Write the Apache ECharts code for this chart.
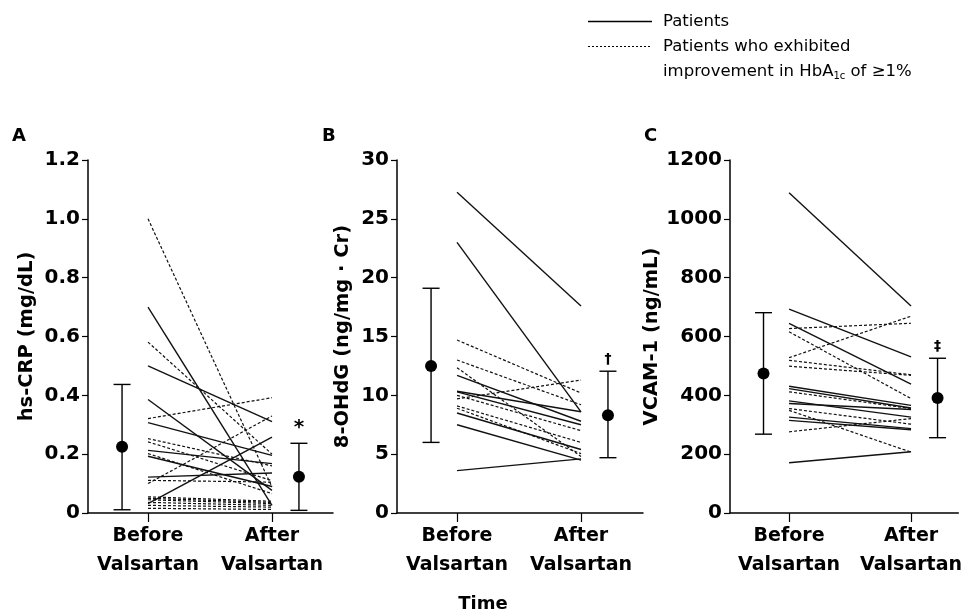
<!DOCTYPE html>
<html>
<head>
<meta charset="utf-8">
<script src="https://cdn.jsdelivr.net/npm/echarts@6/dist/echarts.min.js"></script>
<style>
html,body{margin:0;padding:0;background:#fff;}
#chart{width:965px;height:616px;}
</style>
</head>
<body>
<div id="chart"></div>
<script>
// ---------- DATA ----------
const timeLabels = ['Before\nValsartan', 'After\nValsartan'];
const panelLetters = ['A', 'B', 'C'];
const yAxisNames = ['hs-CRP (mg/dL)', '8-OHdG (ng/mg \u00B7 Cr)', 'VCAM-1 (ng/mL)'];
const sigMarks = ['*', '\u2020', '\u2021'];
const legendLabels = ['Patients', 'Patients who exhibited', 'improvement in HbA', '1c', ' of \u22651%'];

// Panel A: hs-CRP
const aSolidBefore  = [0.70, 0.50, 0.386, 0.307, 0.213, 0.193, 0.122, 0.032];
const aSolidAfter   = [0.026, 0.311, 0.077, 0.196, 0.168, 0.090, 0.136, 0.258];
const aDashedBefore = [1.00, 0.581, 0.321, 0.253, 0.242, 0.202, 0.111, 0.100, 0.055, 0.050, 0.045, 0.036, 0.026, 0.016];
const aDashedAfter  = [0.088, 0.200, 0.392, 0.160, 0.110, 0.066, 0.105, 0.330, 0.040, 0.036, 0.032, 0.026, 0.020, 0.012];
const aMean = [0.225, 0.123];
const aLow  = [0.011, 0.009];
const aHigh = [0.437, 0.237];

// Panel B: 8-OHdG
const bSolidBefore  = [27.25, 23.0, 11.7, 10.35, 10.3, 8.5, 7.5, 3.6];
const bSolidAfter   = [17.6, 8.6, 7.8, 8.6, 7.5, 5.4, 4.5, 4.6];
const bDashedBefore = [14.7, 13.0, 12.35, 10.0, 9.7, 9.1, 8.9];
const bDashedAfter  = [10.2, 9.2, 4.8, 7.0, 11.3, 6.0, 5.05];
const bMean = [12.5, 8.3];
const bLow  = [6.0, 4.7];
const bHigh = [19.1, 12.05];

// Panel C: VCAM-1
const cSolidBefore  = [1089, 693, 645, 431, 423, 381, 372, 326, 315, 171];
const cSolidAfter   = [704, 531, 438, 366, 357, 326, 352, 287, 283, 208];
const cDashedBefore = [627, 616, 528, 519, 499, 412, 355, 349, 276];
const cDashedAfter  = [645, 389, 669, 470, 468, 355, 302, 207, 321];
const cMean = [474, 391];
const cLow  = [268, 256];
const cHigh = [681, 526];

// Axis ranges / ticks
const yMax = [1.2, 30, 1200];
const yInterval = [0.2, 5, 200];

// ---------- LAYOUT (positions in x-axis units) ----------
const xMeanBefore = 1.39, xBefore = 2.45, xAfter = 7.51, xMeanAfter = 8.61;
const grids = [
  {left: 88, top: 160, width: 245, height: 353, xMax: 10},
  {left: 397, top: 160, width: 246, height: 353, xMax: 10.04},
  {left: 730, top: 160, width: 232, height: 353, xMax: 9.47}
];
const FONT = 'DejaVu Sans';

const panels = [
  {sb: aSolidBefore, sa: aSolidAfter, db: aDashedBefore, da: aDashedAfter, mean: aMean, low: aLow, high: aHigh,
   fmt: v => v === 0 ? '0' : v.toFixed(1), gap: 51},
  {sb: bSolidBefore, sa: bSolidAfter, db: bDashedBefore, da: bDashedAfter, mean: bMean, low: bLow, high: bHigh,
   fmt: v => String(v), gap: 44},
  {sb: cSolidBefore, sa: cSolidAfter, db: cDashedBefore, da: cDashedAfter, mean: cMean, low: cLow, high: cHigh,
   fmt: v => String(v), gap: 68}
];

const option = {
  animation: false,
  backgroundColor: '#fff',
  textStyle: {fontFamily: FONT},
  grid: grids.map(g => ({left: g.left, top: g.top, width: g.width, height: g.height, containLabel: false})),
  xAxis: grids.map((g, i) => ({
    type: 'value', gridIndex: i, min: 0, max: g.xMax,
    axisLine: {show: true, onZero: false, lineStyle: {color: '#000', width: 1.5}},
    axisTick: {show: true, customValues: [xBefore, xAfter], length: 9, lineStyle: {color: '#000', width: 1.2}},
    axisLabel: {show: true, customValues: [xBefore, xAfter], margin: 9,
      formatter: v => Math.abs(v - xBefore) < 0.01 ? timeLabels[0] : timeLabels[1],
      fontFamily: FONT, fontWeight: 'bold', fontSize: 19, lineHeight: 29, color: '#000'},
    splitLine: {show: false}
  })),
  yAxis: panels.map((p, i) => ({
    type: 'value', gridIndex: i, min: 0, max: yMax[i], interval: yInterval[i],
    name: yAxisNames[i], nameLocation: 'middle', nameRotate: 90, nameGap: p.gap,
    nameTextStyle: {fontFamily: FONT, fontWeight: 'bold', fontSize: 19.5, color: '#000'},
    axisLine: {show: true, lineStyle: {color: '#000', width: 1.5}},
    axisTick: {show: true, length: 6, lineStyle: {color: '#000', width: 1.2}},
    axisLabel: {formatter: p.fmt, fontFamily: FONT, fontWeight: 'bold', fontSize: 20, color: '#000', margin: 8},
    splitLine: {show: false}
  })),
  series: [],
  graphic: []
};

function lineSeries(i, before, after, dashed) {
  before.forEach((b, k) => {
    option.series.push({
      type: 'line', xAxisIndex: i, yAxisIndex: i, silent: true,
      symbol: 'none',
      data: [[xBefore, b], [xAfter, after[k]]],
      lineStyle: {color: '#111', width: dashed ? 1.2 : 1.4, type: dashed ? [3, 2] : 'solid'},
      z: 2
    });
  });
}

panels.forEach((p, i) => {
  lineSeries(i, p.sb, p.sa, false);
  lineSeries(i, p.db, p.da, true);
  const xs = [xMeanBefore, xMeanAfter];
  option.series.push({
    type: 'custom', xAxisIndex: i, yAxisIndex: i, silent: true, z: 3,
    data: xs.map((x, k) => [x, p.low[k], p.high[k]]),
    renderItem: function (params, api) {
      const lo = api.coord([api.value(0), api.value(1)]);
      const hi = api.coord([api.value(0), api.value(2)]);
      const cw = 8.5;
      const st = {stroke: '#000', lineWidth: 1.4};
      const children = [
        {type: 'line', shape: {x1: lo[0], y1: lo[1], x2: hi[0], y2: hi[1]}, style: st},
        {type: 'line', shape: {x1: lo[0] - cw, y1: lo[1], x2: lo[0] + cw, y2: lo[1]}, style: st},
        {type: 'line', shape: {x1: hi[0] - cw, y1: hi[1], x2: hi[0] + cw, y2: hi[1]}, style: st}
      ];
      if (params.dataIndex === 1) {
        children.push({type: 'text', style: {text: sigMarks[i], x: hi[0], y: hi[1] - 5,
          align: 'center', verticalAlign: 'bottom', fontFamily: FONT, fontWeight: 'bold',
          fontSize: i === 0 ? 20 : 14, fill: '#000'}});
      }
      return {type: 'group', children: children};
    }
  });
  option.series.push({
    type: 'scatter', xAxisIndex: i, yAxisIndex: i, silent: true, z: 4,
    symbol: 'circle', symbolSize: 12,
    itemStyle: {color: '#000', opacity: 1},
    data: xs.map((x, k) => [x, p.mean[k]])
  });
});

// Panel letters
const letterX = [12, 322, 644];
panelLetters.forEach((t, i) => {
  option.graphic.push({type: 'text', left: letterX[i], top: 127,
    style: {text: t, fontFamily: FONT, fontWeight: 'bold', fontSize: 18, fill: '#000'}});
});
// X title
option.graphic.push({type: 'text', x: 483, y: 604,
  style: {text: 'Time', align: 'center', verticalAlign: 'middle', fontFamily: FONT, fontWeight: 'bold', fontSize: 18, fill: '#000'}});
// Legend
option.graphic.push({type: 'line', shape: {x1: 588, y1: 21.5, x2: 652, y2: 21.5}, style: {stroke: '#000', lineWidth: 1.3}});
option.graphic.push({type: 'line', shape: {x1: 588, y1: 46.5, x2: 652, y2: 46.5}, style: {stroke: '#000', lineWidth: 1, lineDash: [2, 2]}});
option.graphic.push({type: 'text', x: 663, y: 22,
  style: {text: legendLabels[0], verticalAlign: 'middle', fontFamily: FONT, fontSize: 16.5, fill: '#000'}});
option.graphic.push({type: 'text', x: 663, y: 47,
  style: {text: legendLabels[1], verticalAlign: 'middle', fontFamily: FONT, fontSize: 16.5, fill: '#000'}});
option.graphic.push({type: 'text', x: 663, y: 72,
  style: {text: '{n|' + legendLabels[2] + '}{s|' + legendLabels[3] + '}{n|' + legendLabels[4] + '}',
    verticalAlign: 'middle', fontFamily: FONT, fontSize: 16.5, fill: '#000',
    rich: {n: {fontFamily: FONT, fontSize: 16.5, fill: '#000'},
           s: {fontFamily: FONT, fontSize: 10, fill: '#000', padding: [8, 0, 0, 0]}}}});

const chart = echarts.init(document.getElementById('chart'), null, {renderer: 'canvas'});
chart.setOption(option);
</script>
</body>
</html>
